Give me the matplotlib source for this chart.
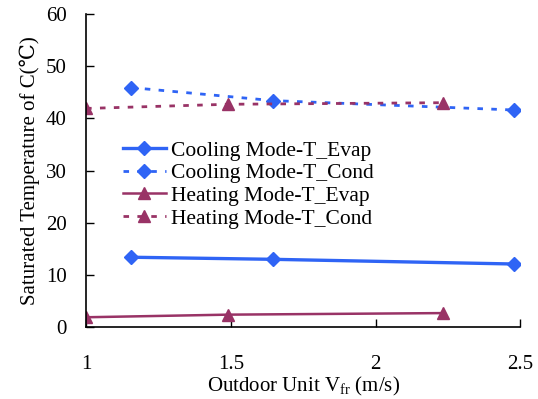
import matplotlib
matplotlib.use('Agg')
from matplotlib import pyplot as plt

plt.rcParams['font.family'] = ['Liberation Serif', 'DejaVu Serif']
plt.rcParams['mathtext.fontset'] = 'custom'
plt.rcParams['mathtext.rm'] = 'Liberation Serif'

# data
cool_v = [1.155, 1.646, 2.48]
cool_evap = [13.4, 13.0, 12.1]
cool_cond = [45.9, 43.4, 41.6]
heat_v = [1.0, 1.49, 2.234]
heat_evap = [1.9, 2.4, 2.7]
heat_cond = [41.9, 42.7, 43.0]

x_ticks = [1, 1.5, 2, 2.5]
x_ticklabels = ['1', '1.5', '2', '2.5']
y_ticks = [0, 10, 20, 30, 40, 50, 60]

blue = '#2f64f5'
maroon = '#993366'

fig = plt.figure(figsize=(5.38, 3.99), dpi=100)
ax = fig.add_axes([0.160, 0.180, 0.807, 0.785])

ax.plot(cool_v, cool_evap, color=blue, lw=2.4, marker='D', ms=7.5,
        label='Cooling Mode-T_Evap')
ax.plot(cool_v, cool_cond, color=blue, lw=2.0, ls=(0, (2, 3)), marker='D', ms=7.5,
        label='Cooling Mode-T_Cond')
ax.plot(heat_v, heat_evap, color=maroon, lw=1.8, marker='^', ms=8.5,
        label='Heating Mode-T_Evap')
ax.plot(heat_v, heat_cond, color=maroon, lw=2.0, ls=(0, (2, 3)), marker='^', ms=8.5,
        label='Heating Mode-T_Cond')

ax.set_xlim(1, 2.5)
ax.set_ylim(0, 60)
ax.set_xticks(x_ticks)
ax.set_xticklabels(x_ticklabels)
ax.set_yticks(y_ticks)
ax.tick_params(direction='in', length=6, width=1, labelsize=15)
ax.tick_params(axis='y', pad=14)
ax.tick_params(axis='x', pad=20)

for s in ['top', 'right']:
    ax.spines[s].set_visible(False)
for s in ['left', 'bottom']:
    ax.spines[s].set_linewidth(1.2)

ax.set_xlabel(r'Outdoor Unit V$_{\rm fr}$ (m/s)', fontsize=15, labelpad=1)
ax.set_ylabel('Saturated Temperature of C(℃)', fontsize=15, labelpad=4)

ax.legend(loc='upper left', bbox_to_anchor=(0.06, 0.63), frameon=False,
          fontsize=15.5, handlelength=2.0, handletextpad=0.25, labelspacing=0.12,
          borderpad=0)

fig.savefig('out.png', dpi=100)
